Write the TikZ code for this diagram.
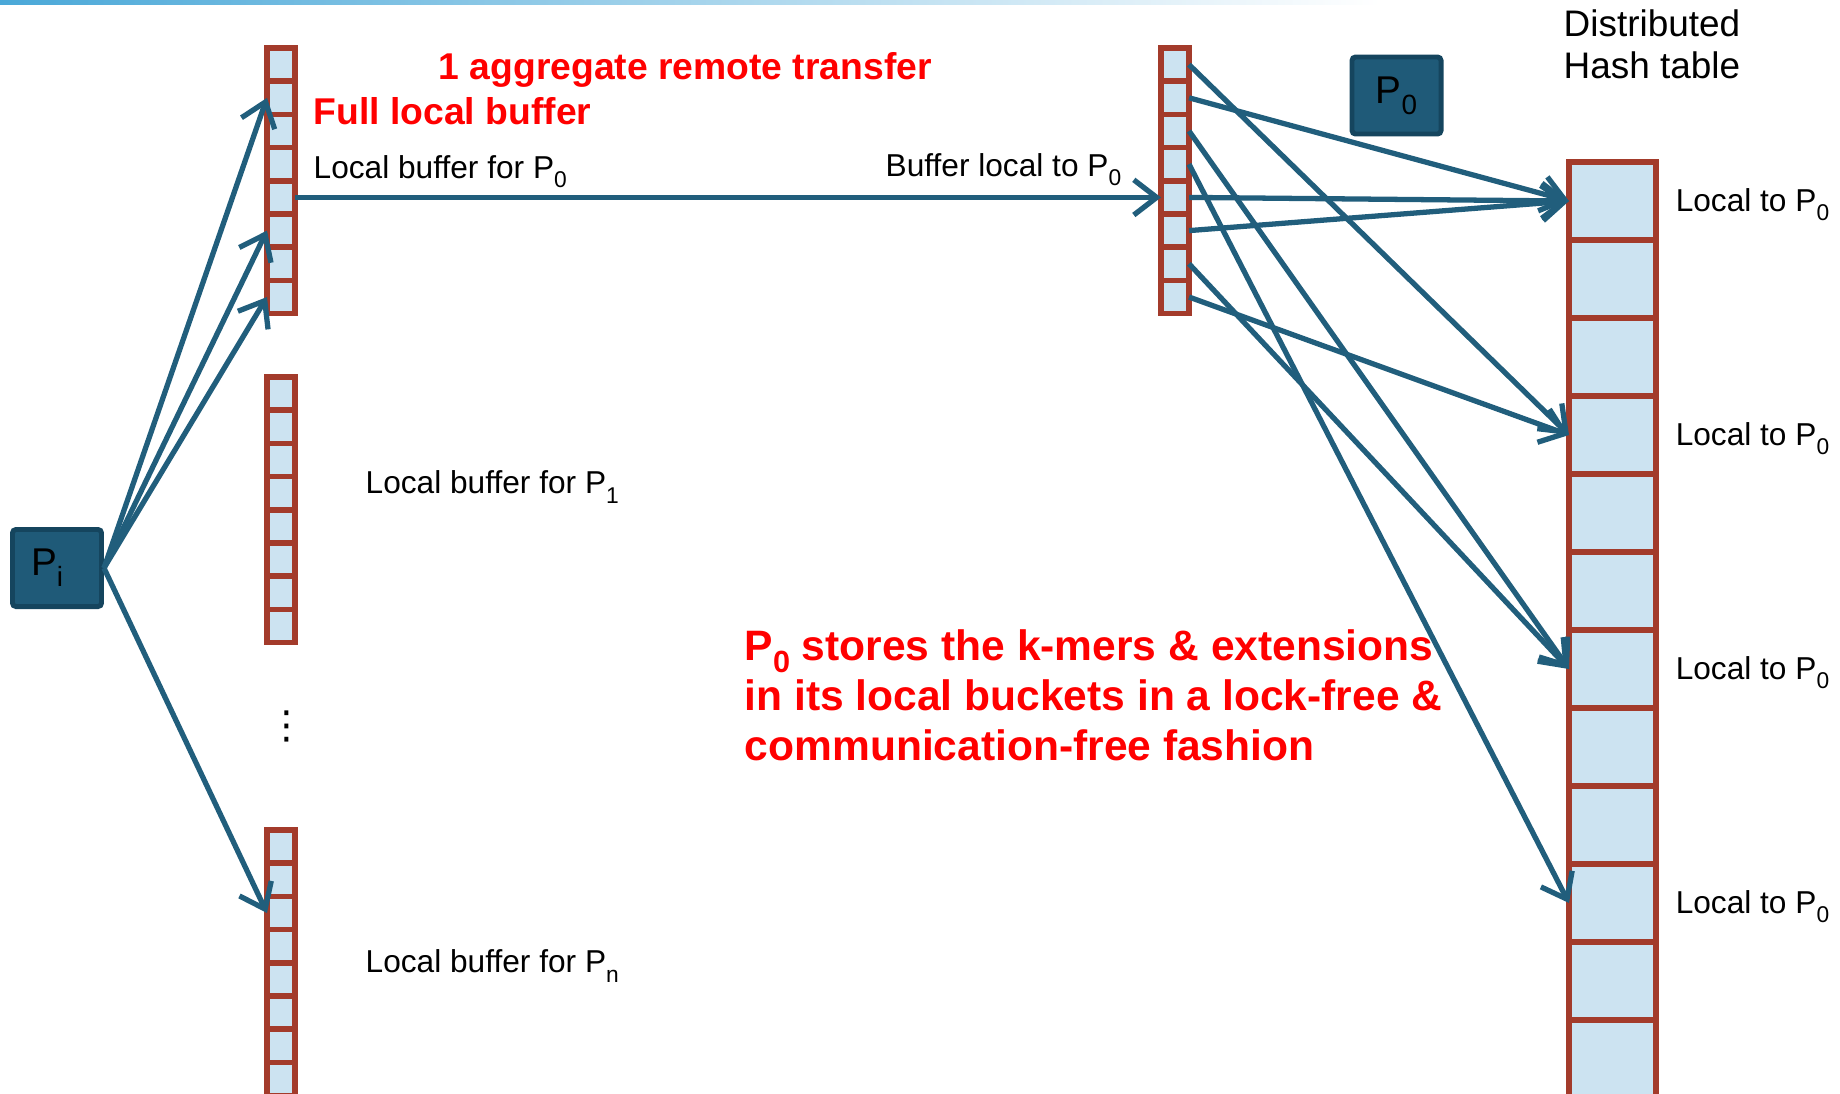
\documentclass[tikz,border=0pt]{standalone}
\usepackage{fontspec}
\setmainfont{Liberation Sans}
\newfontfamily\symfont{DejaVu Sans}
\usepackage{xcolor}
\usepackage{tikz}
\usetikzlibrary{positioning,calc,arrows.meta}

\definecolor{cellblue}{HTML}{CCE3F1}
\definecolor{cellred}{HTML}{A33B2B}
\definecolor{linkblue}{HTML}{215E7C}
\definecolor{procblue}{HTML}{1F5A78}
\definecolor{procdark}{HTML}{15455E}
\definecolor{topblue}{HTML}{4AA8D8}

\newcommand{\lowsub}[1]{\raisebox{-0.55ex}{\scalebox{0.72}{#1}}}

\begin{document}
\begin{tikzpicture}[x=0.01cm, y=-0.01cm,
    cell/.style={draw=cellred, fill=cellblue, line width=1.6pt, minimum width=0.28cm, minimum height=0.332cm, inner sep=0pt, outer sep=0pt},
    htcell/.style={cell, line width=1.9pt, minimum width=0.87cm, minimum height=0.78cm},
    proc/.style={draw=procdark, fill=procblue, line width=1.4pt, rounded corners=1pt, minimum width=0.89cm, minimum height=0.77cm, inner sep=0pt, font=\fontsize{11}{13}\selectfont},
    lbl/.style={inner sep=0pt, font=\fontsize{9}{11}\selectfont},
    note/.style={inner sep=0pt, text=red, font=\bfseries\fontsize{10.6}{12.8}\selectfont},
    link/.style={draw=linkblue, line width=1.5pt, -{Straight Barb[length=6.5pt,width=10pt]}}]
    \useasboundingbox (0,0) rectangle (1840,1093);
    \fill[left color=topblue, right color=white] (0,0) rectangle (1380,4); % top rule

    % local buffers and remote buffer
    \foreach \k in {1,...,8} {
        \node[cell] (a\k) at (281, 31.4+33.2*\k) {}; % for P0
        \node[cell] (b\k) at (281, 360.4+33.2*\k) {}; % for P1
        \node[cell] (c\k) at (281, 813.4+33.2*\k) {}; % for Pn
        \node[cell] (r\k) at (1175, 31.4+33.2*\k) {}; % on P0
    }
    % hash table
    \foreach \k in {1,...,12}
        \node[htcell] (h\k) at (1612.5, 123+78*\k) {};

    \node[proc] (Pi) at (57,568) {\hspace*{-0.2cm}P\lowsub{i}};
    \node[proc] (P0) at (1396.5,95.5) {P\lowsub{0}};
    \node[inner sep=0pt, font=\symfont\fontsize{11}{13}\selectfont] (dots) at (287,726) {⋮};

    \node[note, anchor=base west] (agg) at (438,79) {1 aggregate remote transfer};
    \node[note, anchor=base west] (full) at (313,124) {Full local buffer};
    \node[lbl, anchor=base west] (la) at (313,178) {Local buffer for P\lowsub{0}};
    \node[lbl, anchor=base west] (lr) at (885,176) {Buffer local to P\lowsub{0}};
    \node[lbl, anchor=west] (lb) at (365,487) {Local buffer for P\lowsub{1}};
    \node[lbl, anchor=west] (lc) at (365,966) {Local buffer for P\lowsub{n}};
    \node[inner sep=0pt, anchor=north west, align=left, font=\fontsize{10.5}{12}\selectfont] (dht) at (1563,9) {Distributed\\Hash table};
    \foreach \k in {1,4,7,10}
        \node[lbl, right=0.19cm of h\k, yshift=-0.04cm] (lh\k) {Local to P\lowsub{0}};
    \node[note, anchor=north west, align=left, font=\bfseries\fontsize{12.1}{14.2}\selectfont] (store) at (744,629)
        {P\lowsub{0} stores the k-mers \& extensions\\in its local buckets in a lock-free \&\\communication-free fashion};

    % Pi fills its buffers
    \draw[link] (Pi.east) -- (a2.west);
    \draw[link] (Pi.east) -- (a6.west);
    \draw[link] (Pi.east) -- (a8.west);
    \draw[link] (Pi.east) -- (c3.west);
    \draw[link] (a5.east) -- (r5.west); % one transfer
    % P0 inserts into its buckets
    \foreach \s/\t in {1/4, 2/1, 3/7, 4/10, 5/1, 6/1, 7/7, 8/4}
        \draw[link] (r\s.east) -- (h\t.west);
\end{tikzpicture}
\end{document}
